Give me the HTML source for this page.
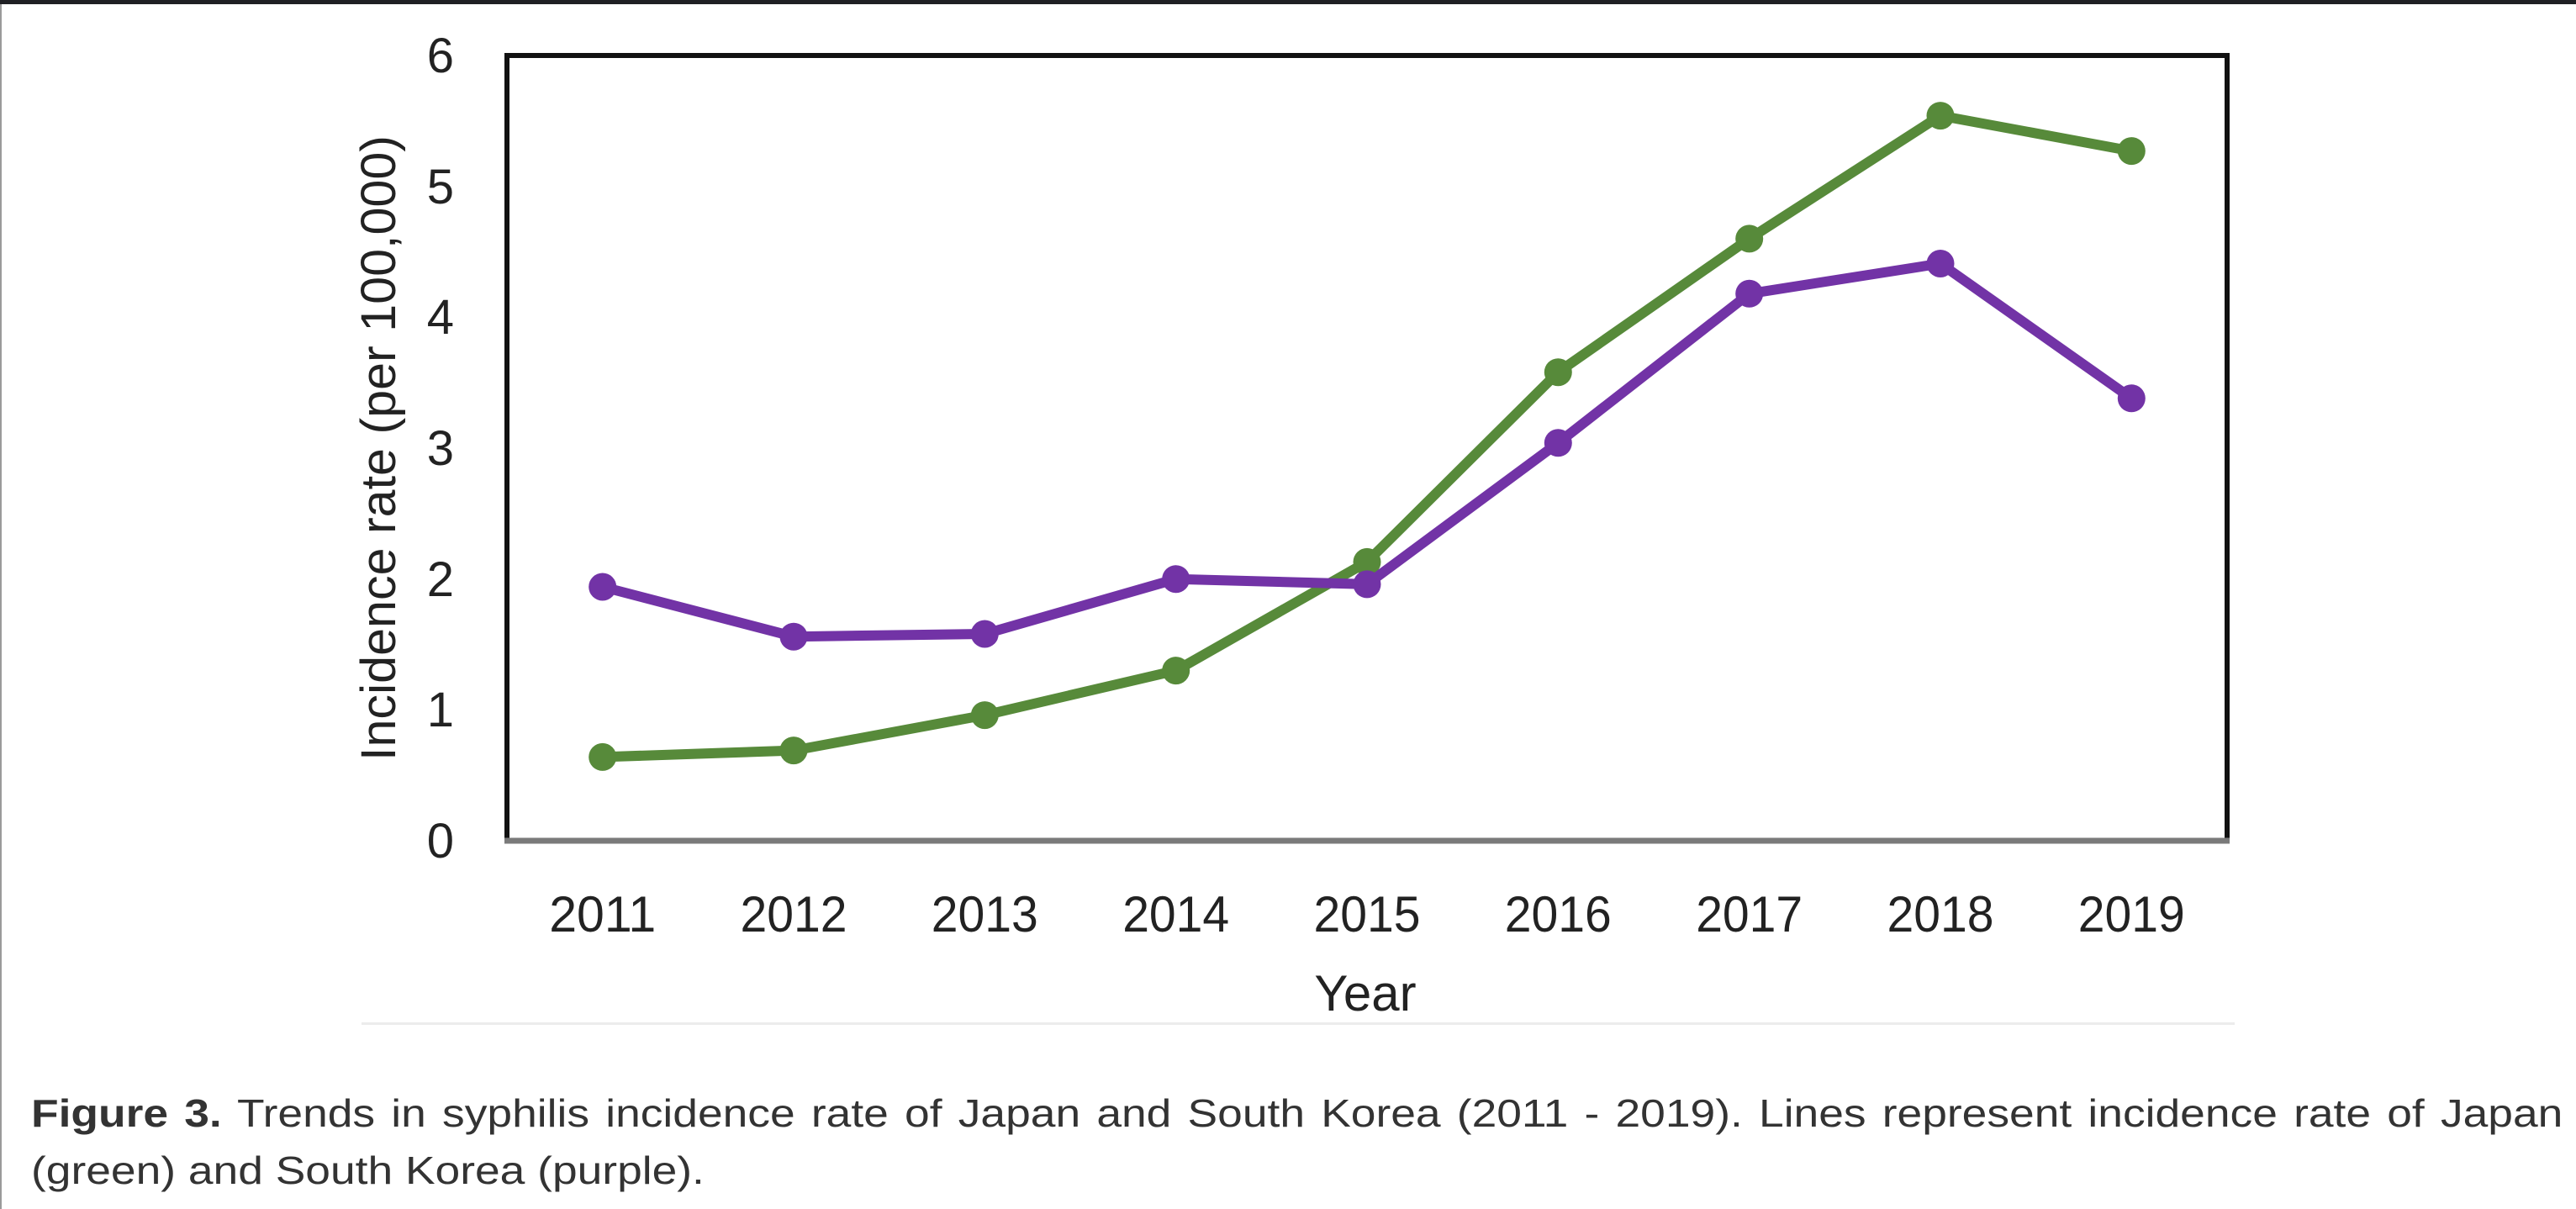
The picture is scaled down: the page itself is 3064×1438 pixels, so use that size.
<!DOCTYPE html>
<html>
<head>
<meta charset="utf-8">
<style>
  html, body { margin:0; padding:0; background:#ffffff; }
  body { width:3064px; height:1438px; position:relative; overflow:hidden; }
  svg { position:absolute; left:0; top:0; }
  .cap { position:absolute; left:37px; font-family:"Liberation Sans", Arial, sans-serif; font-size:46px; line-height:68px; color:#333333; white-space:nowrap; transform:scaleX(1.16); transform-origin:0 0; }
  .l1 { top:1290px; width:2596px; text-align:justify; text-align-last:justify; white-space:normal; }
  .l2 { top:1358px; }
</style>
</head>
<body>
<svg width="3064" height="1438" viewBox="0 0 3064 1438" xmlns="http://www.w3.org/2000/svg">
  <rect x="0" y="0" width="3064" height="1438" fill="#ffffff"/>
  <rect x="0" y="0" width="3064" height="5" fill="#1f2024"/>
  <rect x="0" y="5" width="2" height="1433" fill="#9a9a9a"/>
  <!-- faint separator -->
  <rect x="430" y="1216" width="2228" height="3" fill="#ececec"/>

  <!-- plot box -->
  <rect x="603" y="66" width="2046" height="934" fill="none" stroke="#111111" stroke-width="6"/>
  <line x1="600" y1="1000" x2="2652" y2="1000" stroke="#7a7a7a" stroke-width="7"/>

  <!-- y ticks -->
  <g font-family="Liberation Sans, Arial, sans-serif" font-size="58" fill="#222222" text-anchor="end">
    <text x="540" y="1020">0</text>
    <text x="540" y="864">1</text>
    <text x="540" y="709">2</text>
    <text x="540" y="553">3</text>
    <text x="540" y="397">4</text>
    <text x="540" y="242">5</text>
    <text x="540" y="86">6</text>
  </g>

  <!-- x ticks -->
  <g font-family="Liberation Sans, Arial, sans-serif" font-size="60" fill="#222222" text-anchor="middle">
    <text x="716.7" y="1108" textLength="127" lengthAdjust="spacingAndGlyphs">2011</text>
    <text x="944.0" y="1108" textLength="127" lengthAdjust="spacingAndGlyphs">2012</text>
    <text x="1171.3" y="1108" textLength="127" lengthAdjust="spacingAndGlyphs">2013</text>
    <text x="1398.7" y="1108" textLength="127" lengthAdjust="spacingAndGlyphs">2014</text>
    <text x="1626.0" y="1108" textLength="127" lengthAdjust="spacingAndGlyphs">2015</text>
    <text x="1853.3" y="1108" textLength="127" lengthAdjust="spacingAndGlyphs">2016</text>
    <text x="2080.7" y="1108" textLength="127" lengthAdjust="spacingAndGlyphs">2017</text>
    <text x="2308.0" y="1108" textLength="127" lengthAdjust="spacingAndGlyphs">2018</text>
    <text x="2535.3" y="1108" textLength="127" lengthAdjust="spacingAndGlyphs">2019</text>
  </g>

  <!-- axis titles -->
  <text x="1624" y="1202" font-family="Liberation Sans, Arial, sans-serif" font-size="60" fill="#222222" text-anchor="middle">Year</text>
  <text transform="translate(470,533) rotate(-90)" x="0" y="0" font-family="Liberation Sans, Arial, sans-serif" font-size="58" fill="#222222" text-anchor="middle" textLength="744" lengthAdjust="spacingAndGlyphs">Incidence rate (per 100,000)</text>

  <!-- Japan (green) -->
  <polyline fill="none" stroke="#578a3a" stroke-width="12" stroke-linejoin="round"
    points="716.7,900.4 944.0,892.6 1171.3,850.6 1398.7,797.6 1626.0,668.4 1853.3,442.7 2080.7,283.9 2308.0,137.6 2535.3,179.6"/>
  <g fill="#578a3a">
    <circle cx="716.7" cy="900.4" r="16.5"/>
    <circle cx="944.0" cy="892.6" r="16.5"/>
    <circle cx="1171.3" cy="850.6" r="16.5"/>
    <circle cx="1398.7" cy="797.6" r="16.5"/>
    <circle cx="1626.0" cy="668.4" r="16.5"/>
    <circle cx="1853.3" cy="442.7" r="16.5"/>
    <circle cx="2080.7" cy="283.9" r="16.5"/>
    <circle cx="2308.0" cy="137.6" r="16.5"/>
    <circle cx="2535.3" cy="179.6" r="16.5"/>
  </g>

  <!-- South Korea (purple) -->
  <polyline fill="none" stroke="#7233a6" stroke-width="12" stroke-linejoin="round"
    points="716.7,698.0 944.0,757.2 1171.3,754.0 1398.7,688.7 1626.0,694.9 1853.3,526.8 2080.7,349.3 2308.0,313.5 2535.3,473.8"/>
  <g fill="#7233a6">
    <circle cx="716.7" cy="698.0" r="16.5"/>
    <circle cx="944.0" cy="757.2" r="16.5"/>
    <circle cx="1171.3" cy="754.0" r="16.5"/>
    <circle cx="1398.7" cy="688.7" r="16.5"/>
    <circle cx="1626.0" cy="694.9" r="16.5"/>
    <circle cx="1853.3" cy="526.8" r="16.5"/>
    <circle cx="2080.7" cy="349.3" r="16.5"/>
    <circle cx="2308.0" cy="313.5" r="16.5"/>
    <circle cx="2535.3" cy="473.8" r="16.5"/>
  </g>
</svg>

<div class="cap l1"><b>Figure 3.</b> Trends in syphilis incidence rate of Japan and South Korea (2011 - 2019). Lines represent incidence rate of Japan</div>
<div class="cap l2">(green) and South Korea (purple).</div>
</body>
</html>
